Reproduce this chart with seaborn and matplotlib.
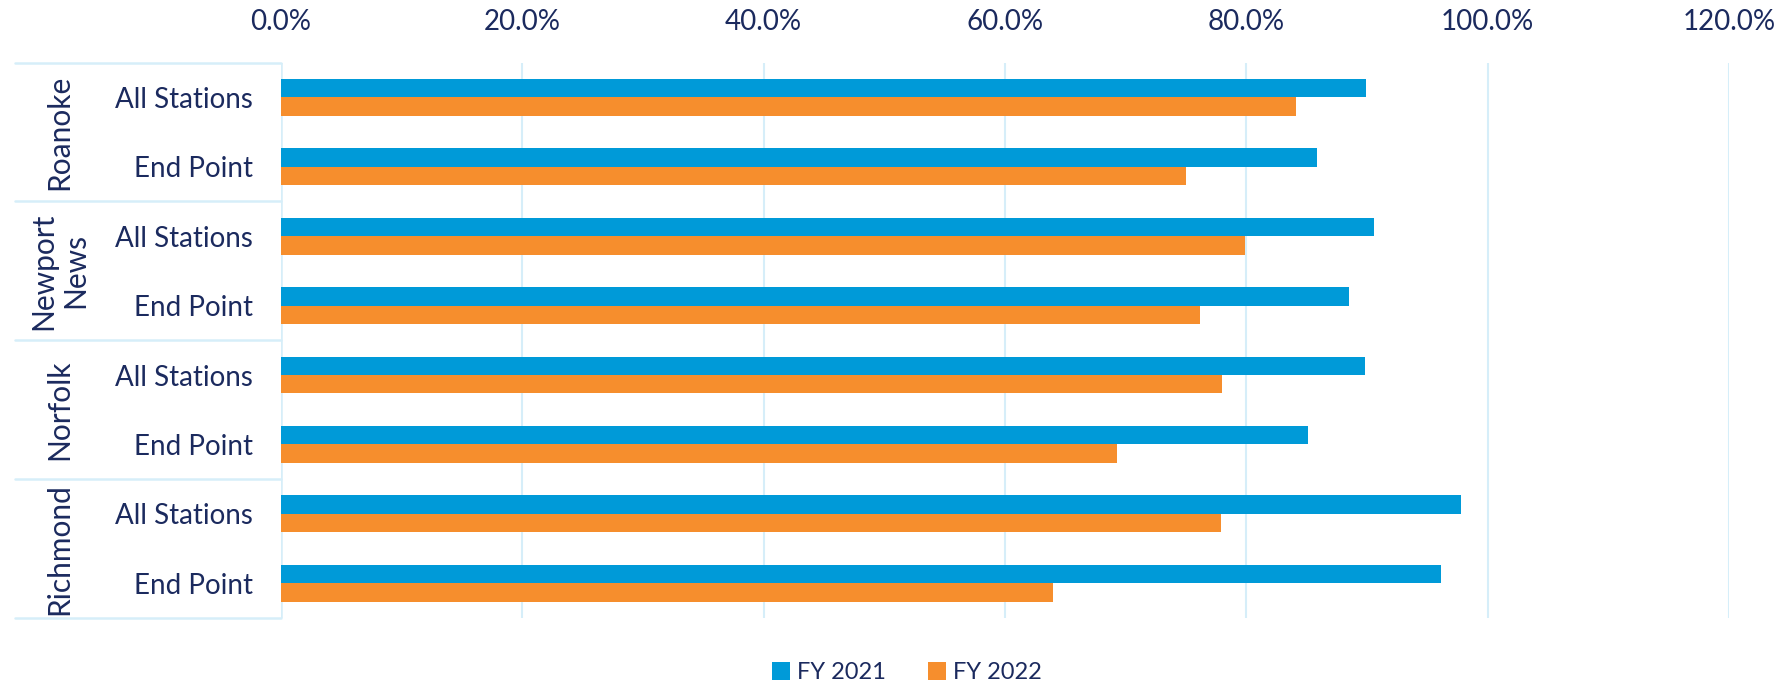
import numpy as np
import pandas as pd
import matplotlib
matplotlib.use('Agg')
import matplotlib.pyplot as plt
import matplotlib.transforms as mtransforms
from matplotlib.ticker import PercentFormatter
import seaborn as sns

# данные
cities = ['Roanoke', 'Newport\nNews', 'Norfolk', 'Richmond']
stations = ['All Stations', 'End Point']
fy2021 = [89.9, 85.9, 90.6, 88.5, 89.8, 85.1, 97.8, 96.1]
fy2022 = [84.1, 75.0, 79.9, 76.2, 78.0, 69.3, 77.9, 64.0]
years = ['FY 2021', 'FY 2022']

sns.set_theme(style='white')
plt.rcParams['font.family'] = ['Lato', 'DejaVu Sans']

navy = '#1b2a5e'
grid_col = '#d6eef9'
colors = ['#009ad8', '#f68e2d']

# длинная таблица для seaborn
rows = []
for i, city in enumerate(cities):
    for j, st in enumerate(stations):
        k = i * 2 + j
        rows.append({'cat': f'{k}', 'label': st, 'year': years[0], 'value': fy2021[k] / 100})
        rows.append({'cat': f'{k}', 'label': st, 'year': years[1], 'value': fy2022[k] / 100})
df = pd.DataFrame(rows)
order = [str(k) for k in range(len(cities) * len(stations))]

fig = plt.figure(figsize=(17.85, 6.88), dpi=100)
ax = fig.add_axes([0.1574, 0.1017, 0.8112, 0.8073])

sns.barplot(data=df, x='value', y='cat', hue='year', order=order,
            palette=colors, width=0.53, orient='h', ax=ax, legend=True,
            saturation=1, linewidth=0)

ax.set_xlim(0, 1.2)
ax.set_ylim(len(order) - 0.5, -0.5)
ax.set_xticks(np.arange(0, 1.21, 0.2))
ax.xaxis.set_major_formatter(PercentFormatter(1.0, decimals=1))
ax.xaxis.tick_top()
ax.tick_params(axis='x', length=0, pad=20, labelsize=20, labelcolor=navy)
ax.tick_params(axis='y', length=0, pad=20, labelsize=20, labelcolor=navy)
ax.set_yticks(range(len(order)))
ax.set_yticklabels([stations[k % 2] for k in range(len(order))])
ax.set_xlabel('')
ax.set_ylabel('')

for s in ax.spines.values():
    s.set_visible(False)
ax.grid(axis='x', color=grid_col, linewidth=1.5)
ax.set_axisbelow(True)
ax.axvline(0, color=grid_col, linewidth=1.8, zorder=0)

# разделители групп и подписи городов
trans = mtransforms.blended_transform_factory(ax.transAxes, ax.transData)
for g in range(len(cities) + 1):
    yy = g * 2 - 0.5
    ax.plot([-0.184, 0], [yy, yy], transform=trans, color=grid_col,
            linewidth=1.8, clip_on=False)
for i, city in enumerate(cities):
    ax.text(-0.153, i * 2 + 0.5, city, transform=trans, rotation=90,
            ha='center', va='center', multialignment='center',
            fontsize=21.5, color=navy, linespacing=1.15)

handles, labels = ax.get_legend_handles_labels()
ax.get_legend().remove()
leg = fig.legend(handles, labels, loc='center', bbox_to_anchor=(0.508, 0.022),
                 ncol=2, frameon=False, fontsize=17, handlelength=0.75,
                 handleheight=0.75, handletextpad=0.3, columnspacing=1.8)
for t in leg.get_texts():
    t.set_color(navy)

fig.savefig('out.png', dpi=100)
